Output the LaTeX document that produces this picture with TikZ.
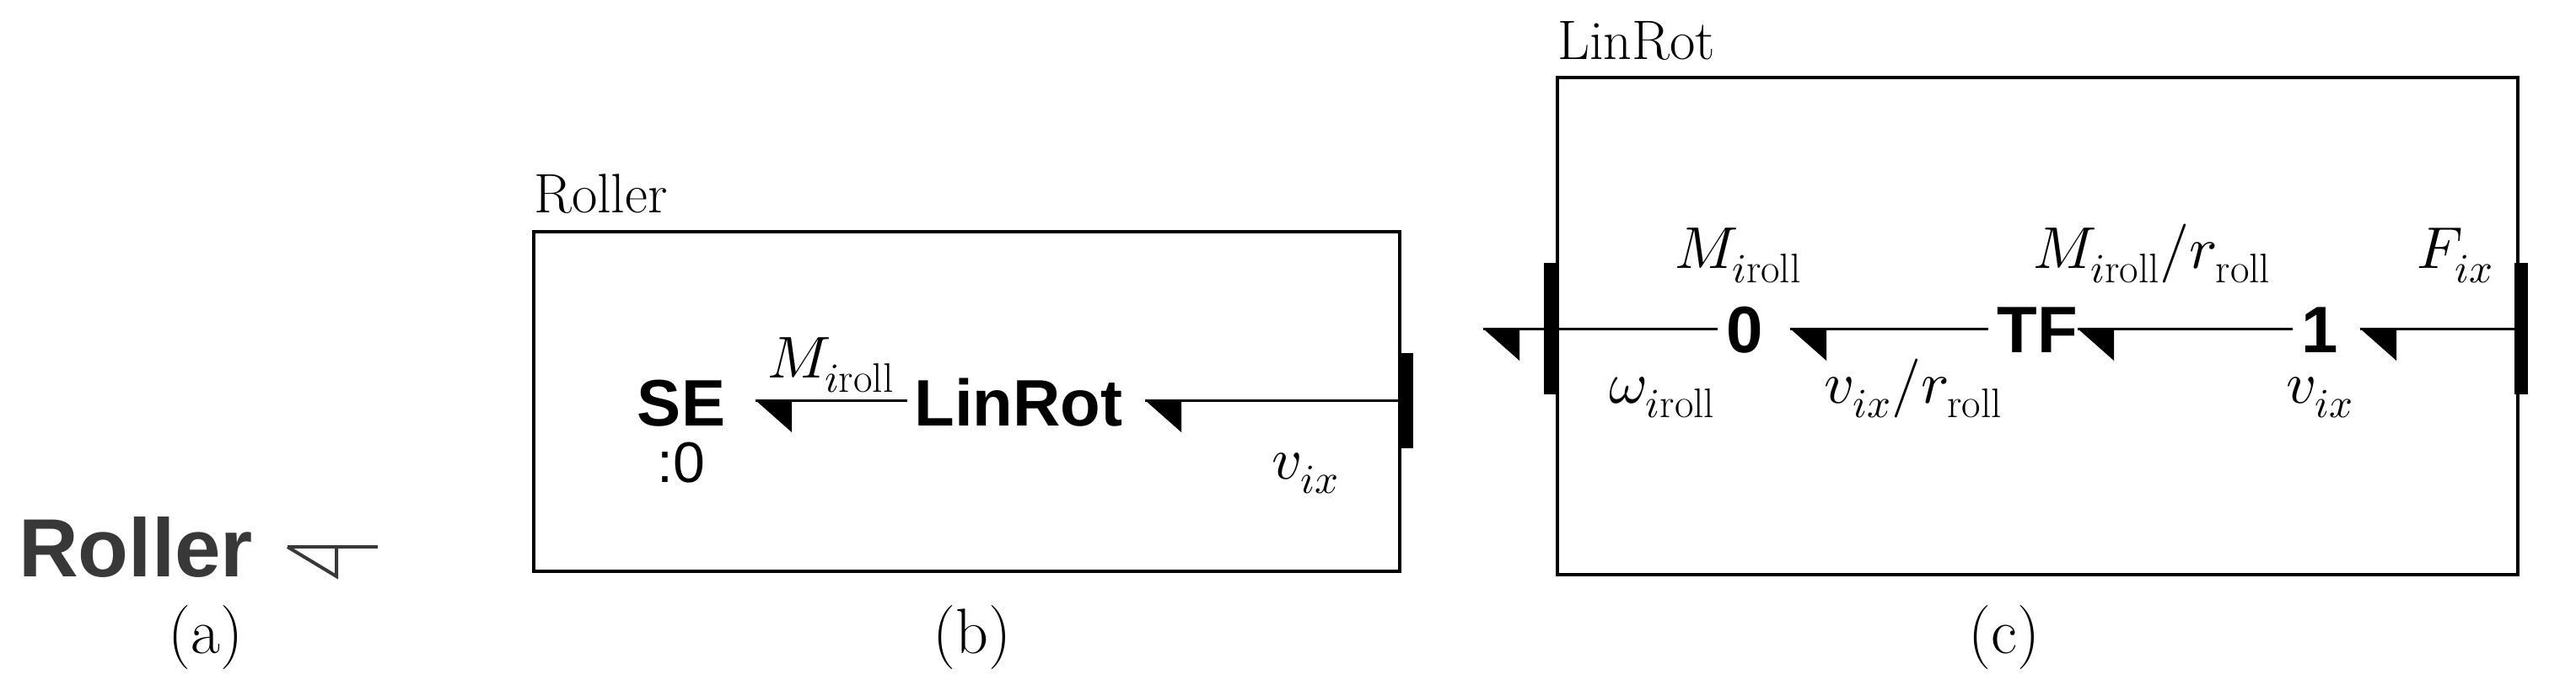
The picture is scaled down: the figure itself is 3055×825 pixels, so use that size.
\documentclass[tikz,border=0pt]{standalone}
\usepackage{unicode-math}
\setmathfont{Latin Modern Math}
\newfontfamily\bsans{Liberation Sans}
\begin{document}
\begin{tikzpicture}[x=1pt,y=-1pt,
  bnode/.style={font=\bsans\bfseries\fontsize{78}{84}\selectfont,inner sep=0pt,anchor=base},
  lab/.style={font=\fontsize{70}{74}\selectfont,inner sep=0pt,anchor=base},
  sublab/.style={font=\fontsize{76}{80}\selectfont,inner sep=0pt,anchor=base},
  ttl/.style={font=\fontsize{66}{70}\selectfont,inner sep=0pt,anchor=base west},
  box/.style={line width=4pt},
  bond/.style={line width=3pt},
  bar/.style={line width=16pt}]
\useasboundingbox (0,0) rectangle (3055,825);
\newcommand{\harr}[1]{\fill #1 -- ++(43,0) -- ++(0,38) -- cycle;}
% (a)
\node[font=\bsans\bfseries\fontsize{98}{102}\selectfont,text=black!78,inner sep=0pt,anchor=base west] (ra) at (22,684) {Roller};
\coordinate (sa1) at (341,649); \coordinate (sa2) at (448,649);
\draw[line width=4pt,black!78] (sa1) -- (sa2);
\draw[line width=4pt,black!78,line join=miter] (sa1) -- (399,684) -- (399,649);
\node[sublab] (la) at (244,775) {(a)};
% (b)
\draw[box] (633,275) rectangle (1660,678);
\node[ttl] (tb) at (633,252) {Roller};
\node[bnode] (se) at (808,505) {SE};
\node[lab,font=\bsans\fontsize{68}{72}\selectfont] (se0) at (808,572) {:0};
\node[bnode] (lr) at (1208,505) {LinRot};
\coordinate (pb) at (1668,475);
\draw[bar] (1668,419) -- (1668,532);
\coordinate (t1) at (896,475); \coordinate (t2) at (1358,475);
\draw[bond] (lr.west|-t1) ++(-8,0) -- (t1);
\draw[bond] (pb) -- (t2);
\harr{(t1)} \harr{(t2)}
\node[lab] (m1) at (985,448) {$M_{i\mathrm{roll}}$};
\node[lab] (v1) at (1548,568) {$v_{ix}$};
\node[sublab] (lb) at (1153,775) {(b)};
% (c)
\draw[box] (1847,92) rectangle (2986,682);
\node[ttl] (tc) at (1847,70) {LinRot};
\draw[bar] (1839,312) -- (1839,468);
\draw[bar] (2990,312) -- (2990,468);
\coordinate (pl) at (1839,390); \coordinate (pr) at (2990,390);
\node[bnode] (n0) at (2069,418) {0};
\node[bnode] (tf) at (2416,418) {TF};
\node[bnode] (n1) at (2751,418) {1};
\coordinate (c0) at (1759,390); \coordinate (c1) at (2123,390);
\coordinate (c2) at (2464,390); \coordinate (c3) at (2799,390);
\draw[bond] (n0.west|-pl) ++(-10,0) -- (c0);
\draw[bond] (tf.west|-pl) ++(-10,0) -- (c1);
\draw[bond] (n1.west|-pl) ++(-10,0) -- (c2);
\draw[bond] (pr) -- (c3);
\harr{(c0)} \harr{(c1)} \harr{(c2)} \harr{(c3)}
\node[lab] (m2) at (2061,318) {$M_{i\mathrm{roll}}$};
\node[lab] (w2) at (1971,478) {$\omega_{i\mathrm{roll}}$};
\node[lab] (v2) at (2269,478) {$v_{ix}/r_{\mathrm{roll}}$};
\node[lab] (m3) at (2552,318) {$M_{i\mathrm{roll}}/r_{\mathrm{roll}}$};
\node[lab] (f3) at (2912,318) {$F_{ix}$};
\node[lab] (v3) at (2751,478) {$v_{ix}$};
\node[sublab] (lc) at (2377,775) {(c)};
\end{tikzpicture}
\end{document}
